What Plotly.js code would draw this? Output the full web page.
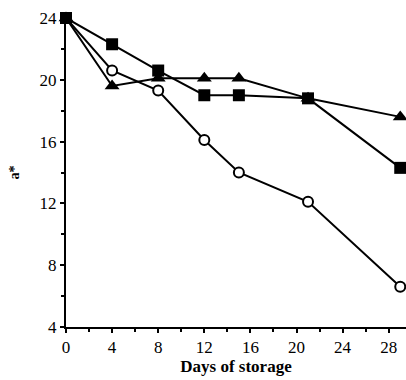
<!DOCTYPE html>
<html>
<head>
<meta charset="utf-8">
<script src="https://cdn.plot.ly/plotly-3.0.1.min.js"></script>
<style>html,body{margin:0;padding:0;background:#fff;}#chart{width:406px;height:380px;}</style>
</head>
<body>
<div id="chart"></div>
<script>
const days = [0, 4, 8, 12, 15, 21, 29];
const squareSeries = [24.0, 22.3, 20.6, 19.0, 19.0, 18.8, 14.3];
const triangleSeries = [24.0, 19.6, 20.1, 20.1, 20.1, 18.8, 17.6];
const circleSeries = [24.0, 20.6, 19.3, 16.1, 14.0, 12.1, 6.6];
const xTicks = [0, 4, 8, 12, 16, 20, 24, 28];
const yTicks = [4, 8, 12, 16, 20, 24];

const lineStyle = {color: '#000', width: 2};
const traces = [
  {x: days, y: circleSeries, mode: 'lines+markers', line: lineStyle,
   marker: {symbol: 'circle', size: 10, color: '#fff', line: {color: '#000', width: 2}}, cliponaxis: false},
  {x: days, y: triangleSeries, mode: 'lines+markers', line: lineStyle,
   marker: {symbol: 'triangle-up', size: 13, color: '#000'}, cliponaxis: false},
  {x: days, y: squareSeries, mode: 'lines+markers', line: lineStyle,
   marker: {symbol: 'square', size: 12, color: '#000'}, cliponaxis: false}
];

const tickFont = {family: 'Liberation Serif, Times New Roman, serif', size: 17, color: '#000'};
const layout = {
  width: 406, height: 380,
  margin: {l: 66, r: 0, t: 18, b: 53},
  paper_bgcolor: '#fff', plot_bgcolor: '#fff',
  showlegend: false,
  xaxis: {
    range: [0, 29.5], tickvals: xTicks, ticktext: xTicks.map(String),
    showgrid: false, zeroline: false, showline: true, linecolor: '#000', linewidth: 2,
    ticks: 'outside', ticklen: 4, tickwidth: 2, tickcolor: '#000',
    minor: {dtick: 2, tick0: 0, ticks: 'outside', ticklen: 3, tickwidth: 2, tickcolor: '#000', showgrid: false},
    tickfont: tickFont,
    title: {text: 'Days of storage', font: {family: 'Liberation Serif, Times New Roman, serif', size: 17, color: '#000', weight: 'bold'}, standoff: 4}
  },
  yaxis: {
    range: [4, 24], tickvals: yTicks, ticktext: yTicks.map(String),
    showgrid: false, zeroline: false, showline: true, linecolor: '#000', linewidth: 2,
    ticks: 'outside', ticklen: 4, tickwidth: 2, tickcolor: '#000',
    minor: {dtick: 2, tick0: 0, ticks: 'outside', ticklen: 3, tickwidth: 2, tickcolor: '#000', showgrid: false},
    tickfont: tickFont,
    title: {text: 'a*', font: {family: 'Liberation Serif, Times New Roman, serif', size: 14, color: '#000', weight: 'bold'}, standoff: 17}
  }
};
Plotly.newPlot('chart', traces, layout, {displayModeBar: false, staticPlot: true});
</script>
</body>
</html>
